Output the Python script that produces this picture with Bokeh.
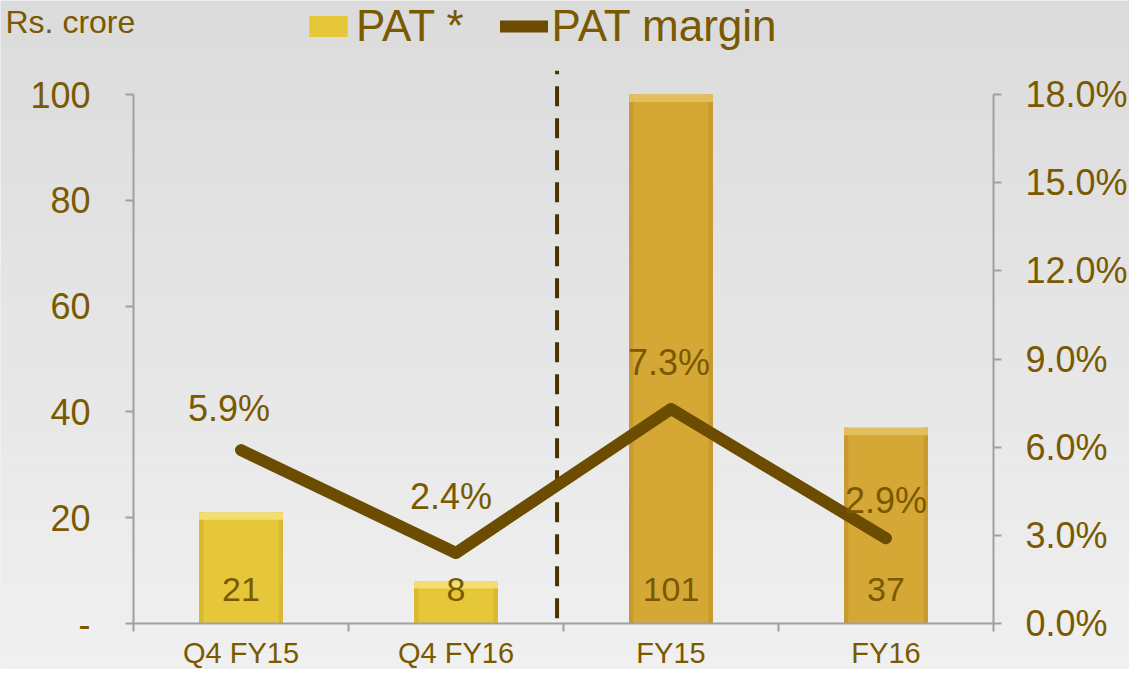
import numpy as np
from bokeh.plotting import figure
from bokeh.models import (Range1d, LinearAxis, FixedTicker, PrintfTickFormatter,
                          Label, Legend, LegendItem, ColumnDataSource)
from bokeh.core.properties import value
from bokeh.embed import file_html
from bokeh.resources import INLINE

# ---- data ----
categories = ["Q4 FY15", "Q4 FY16", "FY15", "FY16"]
pat = [21, 8, 101, 37]
pat_margin = [5.9, 2.4, 7.3, 2.9]
left_ticks = [0, 20, 40, 60, 80, 100]
right_ticks = [0, 3, 6, 9, 12, 15, 18]

# ---- style ----
FONT = "Liberation Sans"
TXT = "#7A5900"
LINE = "#6B4C00"
bar_colors = ["#E6C73A", "#E6C73A", "#D5A836", "#D5A836"]
bar_hl = ["#F3DE70", "#F3DE70", "#E3BE5C", "#E3BE5C"]
bar_edge = ["#D9B92F", "#D9B92F", "#C69A2E", "#C69A2E"]
label_dx = [-12, -5, -2, 0]
label_dy = [-42, -56, -46, -38]

W, H = 1129, 669
LEFT, BOTTOM = 133, 46          # pixel position of the axes origin
CAT_PX = 215                    # pixels per category
AXIS_PX = 529                   # pixels for the 0..100 span
BAR_W = 0.39
EDGE_W = 0.02
n = len(categories)
y_top = left_ticks[-1]
p_top = right_ticks[-1]
x_lo, x_hi = -LEFT / CAT_PX, (W - LEFT) / CAT_PX
y_lo, y_hi = -BOTTOM * y_top / AXIS_PX, (H - BOTTOM) * y_top / AXIS_PX
p_lo, p_hi = -BOTTOM * p_top / AXIS_PX, (H - BOTTOM) * p_top / AXIS_PX
dash_top = y_top * 1.045

x = np.arange(n) + 0.5
pat_shown = np.minimum(pat, y_top)

p = figure(width=W, height=H, x_range=Range1d(x_lo, x_hi), y_range=Range1d(y_lo, y_hi),
           output_backend="svg", toolbar_location=None,
           min_border_left=0, min_border_right=0, min_border_top=0, min_border_bottom=0,
           background_fill_color="#E6E6E6", border_fill_color="#E6E6E6",
           outline_line_color=None)
p.extra_y_ranges = {"pct": Range1d(p_lo, p_hi)}
p.grid.visible = False

# soft vertical background gradient
nb = 40
edges = np.linspace(y_lo, y_hi, nb + 1)
c_bot, c_top = np.array([0xF0, 0xF0, 0xF0]), np.array([0xDB, 0xDB, 0xDB])
cols = ["#%02x%02x%02x" % tuple(int(round(v)) for v in c_bot + (c_top - c_bot) * t)
        for t in np.linspace(0, 1, nb)]
p.quad(left=x_lo, right=x_hi, bottom=edges[:-1], top=edges[1:] + 0.01, fill_color=cols,
       line_color=None)

src = ColumnDataSource(dict(x=x, top=pat_shown, hlb=pat_shown - 1.4,
                            xl=x - BAR_W / 2 + EDGE_W / 2, xr=x + BAR_W / 2 - EDGE_W / 2,
                            color=bar_colors, hl=bar_hl, edge=bar_edge,
                            lab=[str(v) for v in pat]))

# dashed separator
sep = n / 2 - 0.03
p.segment(x0=[sep], y0=[1], x1=[sep], y1=[dash_top], line_dash="20 12", line_width=4,
          line_color="#4A3300")

bars = p.vbar(x="x", top="top", bottom=0, width=BAR_W, fill_color="color",
              line_color=None, source=src)
p.vbar(x="xl", top="top", bottom=0, width=EDGE_W, fill_color="edge", line_color=None,
       source=src)
p.vbar(x="xr", top="top", bottom=0, width=EDGE_W, fill_color="edge", line_color=None,
       source=src)
p.vbar(x="x", top="top", bottom="hlb", width=BAR_W, fill_color="hl",
       line_color=None, source=src)

p.text(x="x", y=0, text="lab", source=src, text_align="center", text_baseline="middle",
       y_offset=-34, text_font=value(FONT), text_font_size="34px", text_color=TXT)

line = p.line(x, pat_margin, y_range_name="pct", line_width=12, line_color=LINE,
              line_cap="round", line_join="round")
p.text(x, pat_margin, text=[f"{v}%" for v in pat_margin], y_range_name="pct",
       text_align="center", text_baseline="middle", y_offset=label_dy, x_offset=label_dx,
       text_font=value(FONT), text_font_size="36px", text_color=TXT)

# axes
ax_col = "#A0A0A0"
ya = p.yaxis[0]
ya.fixed_location = 0
ya.ticker = FixedTicker(ticks=left_ticks, minor_ticks=[])
ya.major_label_overrides = {0: "-"}
ya.bounds = (0, y_top)
ya.major_tick_out = 8
ya.major_tick_in = 0
ya.major_label_standoff = 35
ya.axis_line_color = ax_col
ya.axis_line_width = 2
ya.major_tick_line_color = ax_col
ya.major_tick_line_width = 2
ya.major_label_text_font = FONT
ya.major_label_text_font_size = "36px"
ya.major_label_text_color = TXT

ry = LinearAxis(y_range_name="pct", ticker=FixedTicker(ticks=right_ticks, minor_ticks=[]),
                formatter=PrintfTickFormatter(format="%.1f%%"), fixed_location=n)
ry.bounds = (0, p_top)
ry.major_tick_out = 8
ry.major_tick_in = 0
ry.major_label_standoff = 24
ry.axis_line_color = ax_col
ry.axis_line_width = 2
ry.major_tick_line_color = ax_col
ry.major_tick_line_width = 2
ry.major_label_text_font = FONT
ry.major_label_text_font_size = "36px"
ry.major_label_text_color = TXT
p.add_layout(ry, "right")

xa = p.xaxis[0]
xa.fixed_location = 0
xa.bounds = (0, n)
xa.ticker = FixedTicker(ticks=list(x), minor_ticks=list(range(n + 1)))
xa.major_label_overrides = {float(c): nm for c, nm in zip(x, categories)}
xa.major_tick_out = 0
xa.major_tick_in = 0
xa.minor_tick_out = 8
xa.minor_tick_in = 0
xa.minor_tick_line_color = ax_col
xa.minor_tick_line_width = 2
xa.axis_line_color = ax_col
xa.axis_line_width = 2
xa.major_label_standoff = 5
xa.major_label_text_font = FONT
xa.major_label_text_font_size = "29px"
xa.major_label_text_color = TXT

# legend
legend = Legend(items=[LegendItem(label="PAT *", renderers=[bars]),
                       LegendItem(label="PAT margin", renderers=[line])],
                orientation="horizontal", location=(304, 618),
                background_fill_alpha=0, border_line_color=None,
                label_text_font=FONT, label_text_font_size="44px", label_text_color=TXT,
                glyph_width=48, glyph_height=26, spacing=36, padding=0, margin=0,
                label_standoff=4)
p.add_layout(legend, "center")

p.add_layout(Label(x=5, y=H - 3, x_units="screen", y_units="screen", text="Rs. crore",
                   text_baseline="top", text_font=FONT, text_font_size="32px",
                   text_color=TXT))

open("out.html", "w").write(file_html(p, INLINE))
